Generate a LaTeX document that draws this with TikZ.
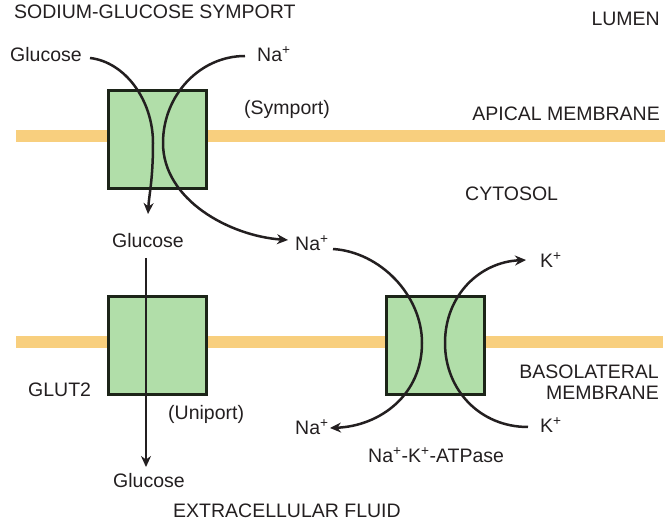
\documentclass[tikz,border=0pt]{standalone}
\usepackage{fontspec}
\setmainfont{Liberation Sans}
\usetikzlibrary{arrows.meta}
\definecolor{txt}{HTML}{231F20}
\definecolor{memb}{HTML}{F8CF7E}
\definecolor{boxfill}{HTML}{B1DEA9}
\definecolor{boxline}{HTML}{1C2418}
\tikzset{
  lbl/.style={inner sep=0pt, text=txt, font=\fontsize{19.5}{23}\selectfont},
  transporter/.style={draw=boxline, line width=3pt, fill=boxfill, minimum width=98pt, minimum height=98pt, inner sep=0pt},
  membrane/.style={memb, line width=12pt},
  flow/.style={draw=txt, line width=2.5pt, -{Stealth[length=11pt,width=10pt]}},
}
\newcommand{\sps}{\textsuperscript{+}}
\begin{document}
\begin{tikzpicture}[x=1pt,y=-1pt]
\useasboundingbox (0,0) rectangle (670,529);
% membranes
\draw[membrane] (16,136.5) -- (665,136.5);
\draw[membrane] (16,342.5) -- (663,342.5);
% transporters
\node[transporter] (sym) at (157.5,139.5) {};
\node[transporter] (glut) at (157.5,346) {};
\node[transporter] (atp) at (435.5,346) {};
% labels
\node[lbl, anchor=base west] (title) at (14,18.5) {SODIUM-GLUCOSE SYMPORT};
\node[lbl, anchor=base east] (lumen) at (660,26) {LUMEN};
\node[lbl, anchor=base west] (gluc1) at (10,62) {Glucose};
\node[lbl, anchor=base west] (na1) at (257,62) {Na\sps};
\node[lbl, anchor=base west] (symlbl) at (244,115) {(Symport)};
\node[lbl, anchor=base east] (apical) at (660,121) {APICAL MEMBRANE};
\node[lbl, anchor=base west] (cyto) at (465,201) {CYTOSOL};
\node[lbl, anchor=base west] (gluc2) at (112,248) {Glucose};
\node[lbl, anchor=base west] (na2) at (295,251) {Na\sps};
\node[lbl, anchor=base west] (k1) at (540,268) {K\sps};
\node[lbl, anchor=base east] (baso) at (659,379) {BASOLATERAL};
\node[lbl, anchor=base east] (basomem) at (659,400) {MEMBRANE};
\node[lbl, anchor=base west] (glutlbl) at (28,397) {GLUT2};
\node[lbl, anchor=base west] (unilbl) at (168,420) {(Uniport)};
\node[lbl, anchor=base west] (na3) at (295,435) {Na\sps};
\node[lbl, anchor=base west] (k2) at (540,433) {K\sps};
\node[lbl, anchor=base west] (atplbl) at (368,463) {Na\sps-K\sps-ATPase};
\node[lbl, anchor=base west] (gluc3) at (113,487) {Glucose};
\node[lbl, anchor=base west] (ecf) at (173,518) {EXTRACELLULAR FLUID};
% path helper coordinates
\coordinate (gs) at (90,58);
\coordinate (gm) at (153,143);
\coordinate (ge) at (148,214);
\coordinate (ns) at (245,56);
\coordinate (nm) at (163,143);
\coordinate (ne) at (288,240);
\coordinate (as) at (333,249);
\coordinate (am) at (422,343);
\coordinate (ae) at (330,428);
\coordinate (ks) at (528,427);
\coordinate (km) at (445,343);
\coordinate (ke) at (526,260);
\coordinate (us) at (146,258);
\coordinate (ue) at (146,467);
% symport flows
\draw[flow] (gs) .. controls (125,62) and (153,100) .. (gm)
                 .. controls (153,180) and (149,195) .. (ge);
\draw[flow] (ns) .. controls (200,56) and (163,95) .. (nm)
                 .. controls (163,200) and (230,236) .. (ne);
% uniport flow
\draw[flow] (us) -- (ue);
% Na-K-ATPase flows
\draw[flow] (as) .. controls (380,252) and (422,295) .. (am)
                 .. controls (422,395) and (380,426) .. (ae);
\draw[flow] (ks) .. controls (480,427) and (445,390) .. (km)
                 .. controls (445,295) and (480,262) .. (ke);
\end{tikzpicture}
\end{document}
